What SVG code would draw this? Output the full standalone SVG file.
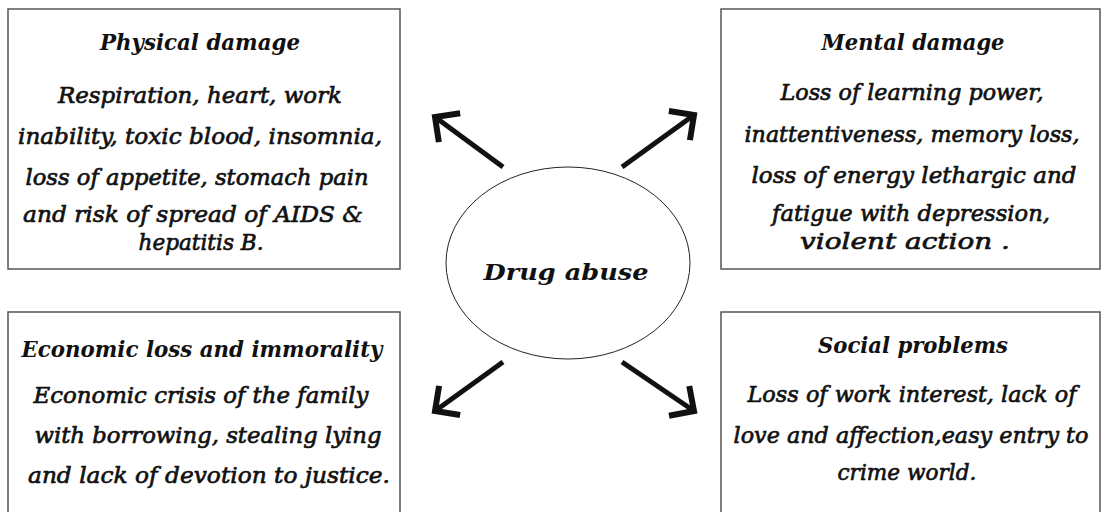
<svg xmlns="http://www.w3.org/2000/svg" width="1103" height="512" viewBox="0 0 1103 512">
<style>
.box{fill:#fff;stroke:#555;stroke-width:1.5}
.t{font-family:"DejaVu Serif","Liberation Serif",serif;font-style:italic;font-weight:bold;font-size:23px;fill:#111;text-anchor:middle}
.b{font-family:"DejaVu Serif","Liberation Serif",serif;font-style:italic;font-weight:normal;font-size:23px;fill:#111;text-anchor:middle;stroke:#111;stroke-width:0.7}
.arr{stroke:#111;stroke-width:5;fill:none;stroke-linecap:butt}
</style>
<defs>
<marker id="ah" markerUnits="userSpaceOnUse" markerWidth="50" markerHeight="50" refX="26" refY="25" orient="auto" viewBox="0 0 50 50">
<path d="M8,7 L26,25 L8,43" fill="none" stroke="#111" stroke-width="6" stroke-linejoin="miter" stroke-miterlimit="4"/>
</marker>
</defs>
<rect width="1103" height="512" fill="#fff"/>
<g id="physical">
<rect class="box" x="8" y="9" width="392" height="260"/>
<text class="t" x="200" y="50" textLength="200" lengthAdjust="spacingAndGlyphs">Physical damage</text>
<text class="b" x="200" y="103" textLength="284" lengthAdjust="spacingAndGlyphs">Respiration, heart, work</text>
<text class="b" x="200" y="144" textLength="364" lengthAdjust="spacingAndGlyphs">inability, toxic blood, insomnia,</text>
<text class="b" x="197" y="185" textLength="343" lengthAdjust="spacingAndGlyphs">loss of appetite, stomach pain</text>
<text class="b" x="193" y="222" textLength="340" lengthAdjust="spacingAndGlyphs">and risk of spread of AIDS &amp;</text>
<text class="b" x="201" y="250" textLength="125" lengthAdjust="spacingAndGlyphs">hepatitis B.</text>
</g>
<g id="mental">
<rect class="box" x="721" y="9" width="379" height="260"/>
<text class="t" x="913" y="50" textLength="183" lengthAdjust="spacingAndGlyphs">Mental damage</text>
<text class="b" x="912" y="100" textLength="263" lengthAdjust="spacingAndGlyphs">Loss of learning power,</text>
<text class="b" x="912" y="142" textLength="335" lengthAdjust="spacingAndGlyphs">inattentiveness, memory loss,</text>
<text class="b" x="914" y="183" textLength="325" lengthAdjust="spacingAndGlyphs">loss of energy lethargic  and</text>
<text class="b" x="911" y="221" textLength="278" lengthAdjust="spacingAndGlyphs">fatigue with depression,</text>
<text class="b" x="905" y="249" textLength="210" lengthAdjust="spacingAndGlyphs">violent action .</text>
</g>
<g id="economic">
<rect class="box" x="8" y="312" width="392" height="210"/>
<text class="t" x="202" y="357" textLength="361" lengthAdjust="spacingAndGlyphs">Economic loss and immorality</text>
<text class="b" x="201" y="403" textLength="335" lengthAdjust="spacingAndGlyphs">Economic crisis of the family</text>
<text class="b" x="208" y="443" textLength="347" lengthAdjust="spacingAndGlyphs">with borrowing, stealing lying</text>
<text class="b" x="209" y="483" textLength="362" lengthAdjust="spacingAndGlyphs">and  lack of devotion to justice.</text>
</g>
<g id="social">
<rect class="box" x="721" y="312" width="379" height="210"/>
<text class="t" x="913" y="353" textLength="190" lengthAdjust="spacingAndGlyphs">Social problems</text>
<text class="b" x="912" y="402" textLength="329" lengthAdjust="spacingAndGlyphs">Loss of work interest, lack of</text>
<text class="b" x="911" y="443" textLength="355" lengthAdjust="spacingAndGlyphs">love and affection,easy entry to</text>
<text class="b" x="907" y="480" textLength="139" lengthAdjust="spacingAndGlyphs">crime world.</text>
</g>
<g id="drug-abuse">
<ellipse cx="568" cy="263" rx="122" ry="96" fill="#fff" stroke="#222" stroke-width="1"/>
<text class="t" x="566" y="280" textLength="165" lengthAdjust="spacingAndGlyphs">Drug abuse</text>
</g>
<g id="connectors">
<line class="arr" x1="503" y1="167" x2="435" y2="117" marker-end="url(#ah)"/>
<line class="arr" x1="622" y1="167" x2="694" y2="115" marker-end="url(#ah)"/>
<line class="arr" x1="503" y1="362" x2="435" y2="411" marker-end="url(#ah)"/>
<line class="arr" x1="622" y1="362" x2="694" y2="411" marker-end="url(#ah)"/>
</g>
</svg>
